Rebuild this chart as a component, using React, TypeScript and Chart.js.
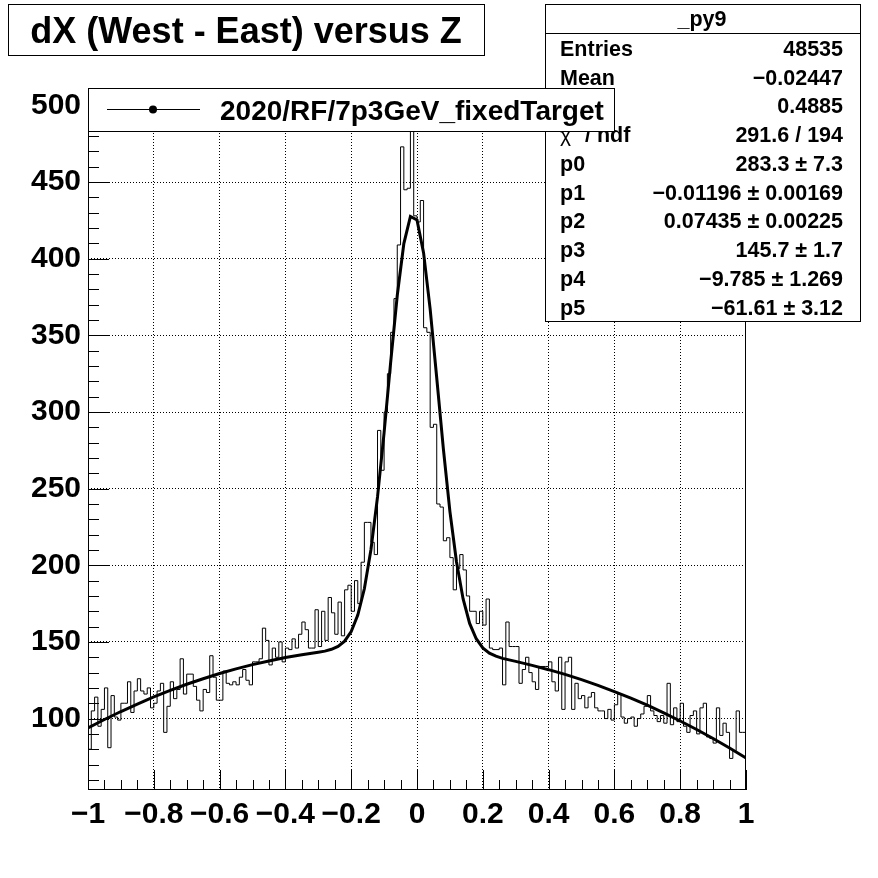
import React, { useEffect, useRef } from 'react';
import { Chart, registerables } from 'chart.js';

Chart.register(...registerables);

// ---------- data ----------
const X_MIN = -1;
const X_MAX = 1;
const BIN_WIDTH = 0.01;
const Y_MIN = 53.4;
const Y_MAX = 511.4;

// 200 bin contents (bin 0 = [-1,-0.99))
const HIST_COUNTS = [
  102, 80, 105, 114, 95, 106, 120, 81, 115, 101,
  99, 110, 110, 124, 104, 118, 126, 118, 116, 120,
  107, 110, 118, 123, 91, 108, 124, 113, 119, 139,
  116, 129, 129, 121, 112, 105, 119, 117, 141, 127,
  112, 112, 131, 123, 122, 124, 122, 127, 132, 125,
  122, 137, 137, 139, 159, 151, 135, 146, 140, 150,
  137, 146, 145, 152, 146, 155, 163, 158, 146, 146,
  171, 147, 170, 151, 179, 169, 155, 176, 154, 184,
  187, 170, 190, 175, 202, 228, 228, 215, 207, 288,
  262, 300, 325, 352, 374, 409, 473, 445, 446, 510,
  428, 424, 438, 355, 352, 290, 292, 240, 238, 216,
  218, 205, 184, 198, 207, 197, 180, 170, 170, 162,
  170, 161, 178, 146, 145, 145, 146, 122, 163, 147,
  147, 147, 123, 132, 140, 130, 124, 119, 134, 134,
  134, 137, 124, 118, 140, 106, 137, 140, 106, 123,
  113, 115, 107, 114, 117, 107, 105, 105, 100, 106,
  99, 109, 116, 101, 97, 100, 101, 95, 100, 103,
  108, 115, 105, 102, 98, 102, 97, 123, 96, 107,
  98, 110, 95, 91, 102, 105, 90, 107, 110, 88,
  87, 84, 107, 89, 97, 91, 74, 79, 105, 91,
];

// fit curve as drawn (x, y)
const FIT_X = [
  -1, -0.95, -0.9, -0.85, -0.8, -0.75, -0.7, -0.65, -0.6, -0.55,
  -0.5, -0.45, -0.4, -0.35, -0.3, -0.28, -0.26, -0.24, -0.22, -0.2,
  -0.18, -0.16, -0.14, -0.12, -0.1, -0.08, -0.06, -0.04, -0.02, 0,
  0.02, 0.04, 0.06, 0.08, 0.1, 0.12, 0.14, 0.16, 0.18, 0.2,
  0.22, 0.24, 0.26, 0.28, 0.3, 0.35, 0.4, 0.45, 0.5, 0.55,
  0.6, 0.65, 0.7, 0.75, 0.8, 0.85, 0.9, 0.95, 1,
];
const FIT_Y = [
  93.9, 99.4, 104.6, 109.5, 114.1, 118.4, 122.4, 126.0, 129.4, 132.4,
  135.2, 137.6, 139.8, 141.6, 143.3, 144.0, 145.2, 147.1, 150.5, 156.8,
  167.5, 184.7, 210.2, 244.6, 286.6, 332.5, 376.0, 409.9, 427.6, 425.3,
  403.8, 367.1, 322.2, 276.3, 235.2, 202.3, 178.2, 162.1, 152.1, 146.1,
  142.7, 140.7, 139.3, 138.3, 137.3, 134.7, 131.9, 128.8, 125.4, 121.7,
  117.6, 113.3, 108.7, 103.7, 98.4, 92.9, 87.0, 80.8, 74.3,
];

const X_TICK_VALUES = [-1, -0.8, -0.6, -0.4, -0.2, 0, 0.2, 0.4, 0.6, 0.8, 1];
const X_TICK_LABELS = ['\u22121', '\u22120.8', '\u22120.6', '\u22120.4', '\u22120.2', '0', '0.2', '0.4', '0.6', '0.8', '1'];
const Y_TICK_VALUES = [100, 150, 200, 250, 300, 350, 400, 450, 500];
const Y_TICK_LABELS = ['100', '150', '200', '250', '300', '350', '400', '450', '500'];

const TITLE = 'dX (West - East) versus Z';
const LEGEND_LABEL = '2020/RF/7p3GeV_fixedTarget';
const STATS_NAME = '_py9';
const STATS_LABELS = ['Entries', 'Mean', 'Std Dev', 'chi2', 'p0', 'p1', 'p2', 'p3', 'p4', 'p5'];
const STATS_VALUES = [
  '48535',
  '\u22120.02447',
  '0.4885',
  '291.6 / 194',
  '283.3 \u00b1 7.3',
  '\u22120.01196 \u00b1 0.00169',
  '0.07435 \u00b1 0.00225',
  '145.7 \u00b1 1.7',
  '\u22129.785 \u00b1 1.269',
  '\u221261.61 \u00b1 3.12',
];

const FONT = '"Liberation Sans", Arial, Helvetica, sans-serif';

const rootPlugin = {
  id: 'rootDecor',
  beforeDraw(chart: any) {
    const ctx = chart.ctx;
    ctx.save();
    ctx.fillStyle = '#fff';
    ctx.fillRect(0, 0, chart.width, chart.height);
    ctx.restore();
  },
  afterDatasetsDraw(chart: any) {
    const ctx = chart.ctx;
    const a = chart.chartArea;
    const xs = chart.scales.x;
    const ys = chart.scales.y;
    ctx.save();
    ctx.strokeStyle = '#000';
    ctx.lineWidth = 1;
    // frame
    ctx.strokeRect(Math.round(a.left) + 0.5, Math.round(a.top) + 0.5, Math.round(a.right - a.left) - 1, Math.round(a.bottom - a.top) - 1);
    // x ticks (inward from bottom)
    ctx.beginPath();
    for (let k = 0; k <= 40; k++) {
      const v = X_MIN + k * 0.05;
      const px = Math.round(xs.getPixelForValue(v)) + 0.5;
      const len = k % 4 === 0 ? 20 : 10;
      ctx.moveTo(px, a.bottom);
      ctx.lineTo(px, a.bottom - len);
    }
    // y ticks (inward from left)
    for (let k = 0; k <= 45; k++) {
      const v = 60 + k * 10;
      if (v < Y_MIN || v > Y_MAX) continue;
      const py = Math.round(ys.getPixelForValue(v)) + 0.5;
      const len = v % 50 === 0 ? 21 : 11;
      ctx.moveTo(a.left, py);
      ctx.lineTo(a.left + len, py);
    }
    ctx.stroke();
    ctx.restore();
  },
  afterDraw(chart: any) {
    const ctx = chart.ctx;
    ctx.save();
    ctx.strokeStyle = '#000';
    ctx.lineWidth = 1;
    ctx.fillStyle = '#000';

    // title box
    ctx.fillStyle = '#fff';
    ctx.fillRect(8, 4, 476, 51);
    ctx.strokeRect(8.5, 4.5, 476, 51);
    ctx.fillStyle = '#000';
    ctx.font = `bold 36px ${FONT}`;
    ctx.textAlign = 'center';
    ctx.textBaseline = 'alphabetic';
    ctx.fillText(TITLE, 246, 43);

    // stats box
    ctx.fillStyle = '#fff';
    ctx.fillRect(545, 4, 315, 317);
    ctx.strokeRect(545.5, 4.5, 315, 317);
    ctx.beginPath();
    ctx.moveTo(545, 33.5);
    ctx.lineTo(860, 33.5);
    ctx.stroke();
    ctx.fillStyle = '#000';
    const sFont = `bold 21.5px ${FONT}`;
    ctx.font = sFont;
    ctx.textAlign = 'center';
    ctx.fillText(STATS_NAME, 702, 26);
    const rowY = [48, 77, 105, 134, 163, 192, 220, 249, 278, 307];
    for (let i = 0; i < STATS_LABELS.length; i++) {
      const base = rowY[i] + 7.7;
      ctx.font = sFont;
      ctx.textAlign = 'left';
      const lab = STATS_LABELS[i];
      if (lab === 'chi2') {
        ctx.font = `21px ${FONT}`;
        ctx.fillText('\u03c7', 560, base);
        ctx.font = `bold 13px ${FONT}`;
        ctx.fillText('2', 574, base - 11);
        ctx.font = sFont;
        ctx.fillText('/ ndf', 585, base);
      } else if (lab !== 'Std Dev') {
        ctx.fillText(lab, 560, base);
      }
      ctx.textAlign = 'right';
      ctx.font = sFont;
      ctx.fillText(STATS_VALUES[i], 843, base);
    }

    // legend box (drawn over the stats box)
    ctx.fillStyle = '#fff';
    ctx.fillRect(88, 88, 526, 43);
    ctx.strokeRect(88.5, 88.5, 526, 43);
    ctx.beginPath();
    ctx.moveTo(107, 109.5);
    ctx.lineTo(200, 109.5);
    ctx.stroke();
    ctx.fillStyle = '#000';
    ctx.beginPath();
    ctx.arc(153, 109.5, 4, 0, Math.PI * 2);
    ctx.fill();
    ctx.font = `bold 28px ${FONT}`;
    ctx.textAlign = 'left';
    ctx.fillText(LEGEND_LABEL, 220, 120);
    ctx.restore();
  },
};

export default function App() {
  const ref = useRef<HTMLCanvasElement>(null);
  useEffect(() => {
    const canvas = ref.current;
    if (!canvas) return;
    const histPoints = HIST_COUNTS.map((c, i) => ({ x: X_MIN + i * BIN_WIDTH, y: c }));
    histPoints.push({ x: X_MAX, y: HIST_COUNTS[HIST_COUNTS.length - 1] });
    const fitPoints = FIT_X.map((x, i) => ({ x, y: FIT_Y[i] }));
    const tickFont = { family: FONT, weight: 'bold' as const, size: 30 };
    const chart = new Chart(canvas, {
      type: 'line',
      data: {
        datasets: [
          {
            label: 'fit',
            data: fitPoints,
            borderColor: '#000',
            borderWidth: 3,
            pointRadius: 0,
            tension: 0,
            fill: false,
            order: 0,
          },
          {
            label: LEGEND_LABEL,
            data: histPoints,
            borderColor: '#000',
            borderWidth: 1,
            pointRadius: 0,
            stepped: 'after',
            fill: false,
            order: 1,
          },
        ],
      },
      options: {
        responsive: false,
        animation: false,
        devicePixelRatio: 1,
        events: [],
        layout: { padding: { left: 0, top: 88, right: 132, bottom: 0 } },
        plugins: { legend: { display: false }, tooltip: { enabled: false }, title: { display: false } },
        scales: {
          x: {
            type: 'linear',
            min: X_MIN,
            max: X_MAX,
            afterBuildTicks: (s: any) => {
              s.ticks = X_TICK_VALUES.map((v) => ({ value: v }));
            },
            afterFit: (s: any) => {
              s.height = 88;
            },
            ticks: {
              autoSkip: false,
              maxRotation: 0,
              minRotation: 0,
              padding: 7,
              color: '#000',
              font: tickFont,
              callback: (_v: any, i: number) => X_TICK_LABELS[i],
            },
            grid: {
              drawTicks: false,
              lineWidth: 1,
              color: (c: any) => (c.tick && Math.abs(c.tick.value) > 0.999 ? 'rgba(0,0,0,0)' : '#000'),
            },
            border: { display: false, dash: [1, 2] },
          },
          y: {
            type: 'linear',
            min: Y_MIN,
            max: Y_MAX,
            afterBuildTicks: (s: any) => {
              s.ticks = Y_TICK_VALUES.map((v) => ({ value: v }));
            },
            afterFit: (s: any) => {
              s.width = 88;
            },
            ticks: {
              padding: 7,
              color: '#000',
              font: tickFont,
              callback: (_v: any, i: number) => Y_TICK_LABELS[i],
            },
            grid: { drawTicks: false, lineWidth: 1, color: '#000' },
            border: { display: false, dash: [1, 2] },
          },
        },
      },
      plugins: [rootPlugin],
    } as any);
    return () => chart.destroy();
  }, []);
  return (
    <div style={{ position: 'fixed', left: 0, top: 0, width: 878, height: 878, background: '#fff' }}>
      <canvas ref={ref} width={878} height={878} style={{ width: 878, height: 878, display: 'block' }} />
    </div>
  );
}
